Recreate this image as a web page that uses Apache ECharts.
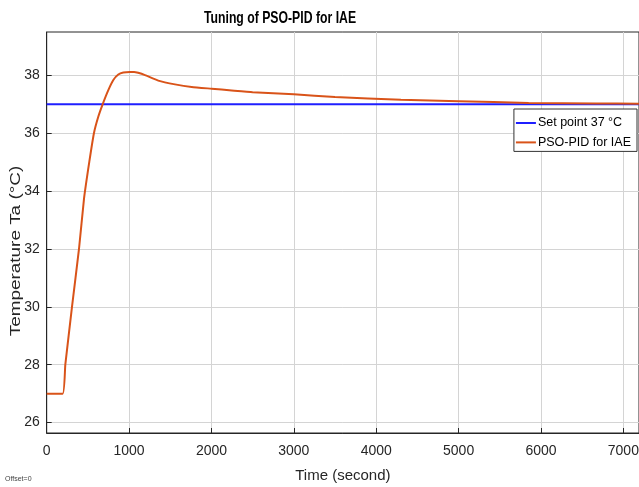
<!DOCTYPE html>
<html>
<head>
<meta charset="utf-8">
<script src="https://cdn.jsdelivr.net/npm/echarts@6/dist/echarts.min.js"></script>
<style>
  html, body { margin: 0; padding: 0; background: #fff; }
  #chart { width: 639px; height: 487px; }
</style>
</head>
<body>
<div id="chart"></div>
<script>
// time (s) and temperature
const timeSec = [0, 194, 226, 307, 392, 453, 517, 574, 626, 679, 748, 809, 869, 930, 1011, 1060, 1110, 1193, 1354, 1557, 1760, 2002, 2245, 2500, 3000, 3500, 4300, 5000, 5850, 6670, 7190]
const pidTemp = [27, 27, 28, 30, 32, 33.74, 35.01, 36.01, 36.57, 37.0, 37.49, 37.84, 38.03, 38.1, 38.12, 38.12, 38.09, 38.01, 37.82, 37.69, 37.6, 37.54, 37.48, 37.42, 37.35, 37.25, 37.16, 37.11, 37.05, 37.03, 37.02]
const setTime = [0, 7190]
const setTemp = [37, 37]
const yTicks = [26, 28, 30, 32, 34, 36, 38]

const tickColor = '#262626'
const gridColor = '#d4d4d4'
const font = 'Liberation Sans'

const chart = echarts.init(document.getElementById('chart'), null, { renderer: 'canvas' })

chart.setOption({
  backgroundColor: '#fff',
  animation: false,
  grid: {
    left: 46.7,
    right: 0,
    top: 32,
    bottom: 54,
    show: true,
    borderColor: tickColor,
    borderWidth: 1,
    containLabel: false,
    outerBoundsMode: 'none'
  },
  legend: {
    orient: 'vertical',
    right: 2,
    top: 109,
    backgroundColor: '#fff',
    borderColor: '#333',
    borderWidth: 1,
    borderRadius: 0,
    padding: [7, 6, 2, 2],
    icon: 'rect',
    itemWidth: 20,
    itemHeight: 2,
    itemGap: 5.4,
    textStyle: { fontFamily: font, fontSize: 12.5, color: '#000', lineHeight: 14, padding: [0, 0, 0, -3] },
    data: ['Set point 37 °C', 'PSO-PID for IAE']
  },
  xAxis: {
    type: 'value',
    min: 0,
    max: 7190,
    interval: 1000,
    name: 'Time (second)',
    nameLocation: 'middle',
    nameGap: 35,
    nameTextStyle: { fontFamily: font, fontSize: 15, color: tickColor },
    axisLine: { show: true, onZero: false, lineStyle: { color: tickColor } },
    axisTick: { inside: true, length: 5, lineStyle: { color: tickColor } },
    axisLabel: { fontFamily: font, fontSize: 14, color: tickColor, margin: 11, showMaxLabel: false, formatter: v => String(v) },
    splitLine: { show: true, lineStyle: { color: gridColor, width: 1 } }
  },
  yAxis: {
    type: 'value',
    min: 25.64,
    max: 39.5,
    axisLine: { show: true, onZero: false, lineStyle: { color: tickColor } },
    axisTick: { inside: true, length: 5, customValues: yTicks, lineStyle: { color: tickColor } },
    axisLabel: { fontFamily: font, fontSize: 14, color: tickColor, margin: 7, customValues: yTicks },
    splitLine: { show: true, lineStyle: { color: gridColor, width: 1 } }
  },
  graphic: [
    {
      type: 'text',
      x: 280,
      y: 18,
      scaleX: 0.72,
      style: {
        text: 'Tuning of PSO-PID for IAE',
        fontFamily: font,
        fontWeight: 'bold',
        fontSize: 17,
        fill: '#000',
        align: 'center',
        verticalAlign: 'middle'
      }
    },
    {
      // y axis title, stretched like the original export
      type: 'text',
      x: 16,
      y: 251,
      rotation: Math.PI / 2,
      scaleX: 1.26,
      style: {
        text: 'Temperature Ta (°C)',
        fontFamily: font,
        fontSize: 15,
        fill: tickColor,
        align: 'center',
        verticalAlign: 'middle'
      }
    },
    {
      type: 'text',
      left: 5,
      top: 476,
      style: { text: 'Offset=0', fontFamily: font, fontSize: 7, fill: '#444' }
    }
  ],
  series: [
    {
      name: 'Set point 37 °C',
      type: 'line',
      symbol: 'none',
      lineStyle: { color: '#1f1fff', width: 2 },
      itemStyle: { color: '#1f1fff' },
      data: setTime.map((t, i) => [t, setTemp[i]])
    },
    {
      name: 'PSO-PID for IAE',
      type: 'line',
      symbol: 'none',
      smooth: 0.15,
      lineStyle: { color: '#d95319', width: 2 },
      itemStyle: { color: '#d95319' },
      data: timeSec.map((t, i) => [t, pidTemp[i]])
    }
  ]
})
</script>
</body>
</html>
